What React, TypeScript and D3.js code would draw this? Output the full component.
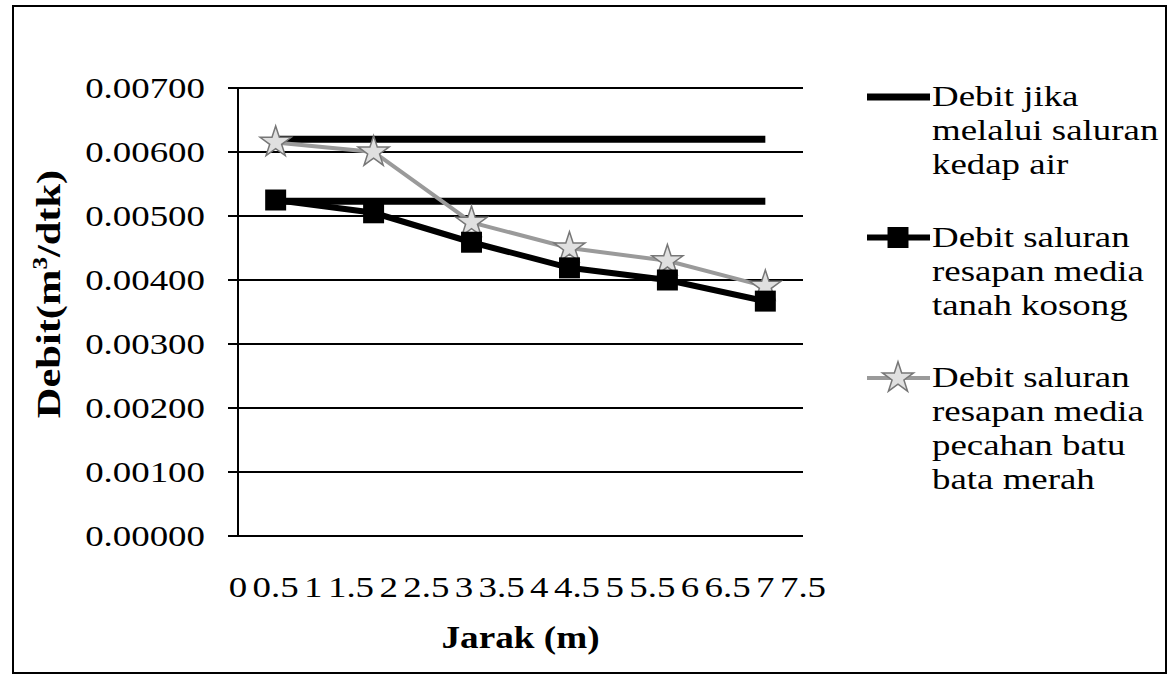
import React from 'react';
import * as d3 from 'd3';

// jarak (m) for each measuring point
const jarak = [0.5, 1.8, 3.1, 4.4, 5.7, 7.0];
// debit (m3/dtk)
const kedapAirBatu = [0.0062, 0.0062, 0.0062, 0.0062, 0.0062, 0.0062];
const kedapAirTanah = [0.00523, 0.00523, 0.00523, 0.00523, 0.00523, 0.00523];
const tanahKosong = [0.00525, 0.00505, 0.00459, 0.00419, 0.004, 0.00367];
const batuBata = [0.00615, 0.006, 0.0049, 0.0045, 0.0043, 0.0039];

const xTickLabels = ['0', '0.5', '1', '1.5', '2', '2.5', '3', '3.5', '4', '4.5', '5', '5.5', '6', '6.5', '7', '7.5'];
const yTicks = [0, 0.001, 0.002, 0.003, 0.004, 0.005, 0.006, 0.007];

const legendLabels = [
  ['Debit jika', 'melalui saluran', 'kedap air'],
  ['Debit saluran', 'resapan media', 'tanah kosong'],
  ['Debit saluran', 'resapan media', 'pecahan batu', 'bata merah'],
];

const W = 1172;
const H = 679;
const plot = { left: 238, right: 803, top: 88, bottom: 536 };
const FONT = '"Liberation Serif", "Times New Roman", serif';
const SX = 1.23; // the source font is set wide

const Wide: React.FC<{
  x: number;
  y: number;
  anchor?: 'start' | 'middle' | 'end';
  size?: number;
  bold?: boolean;
  sx?: number;
  children: React.ReactNode;
}> = ({ x, y, anchor = 'start', size = 30, bold = false, sx = SX, children }) => (
  <text
    transform={`translate(${x},${y}) scale(${sx},1)`}
    textAnchor={anchor}
    fontFamily={FONT}
    fontSize={size}
    fontWeight={bold ? 'bold' : 'normal'}
    fill="#000"
  >
    {children}
  </text>
);

const App: React.FC = () => {
  const x = d3.scaleLinear().domain([0, 7.5]).range([plot.left, plot.right]);
  const y = d3.scaleLinear().domain([0, 0.007]).range([plot.bottom, plot.top]);
  const line = d3
    .line<number>()
    .x((_, i) => x(jarak[i]))
    .y((d) => y(d));

  const square = d3.symbol().type(d3.symbolSquare).size(440)();
  const star = d3.symbol().type(d3.symbolStar).size(300)();

  // legend rows: each entry stacks its lines, a gap goes between entries
  const lineH = 34;
  const gap = 38.5;
  let cy = 97;
  const legendRows = legendLabels.map((lines) => {
    const row = { top: cy, lines };
    cy += lines.length * lineH + gap;
    return row;
  });

  return (
    <svg width={W} height={H} style={{ position: 'absolute', left: 0, top: 0, background: '#fff' }}>
      <rect x={0} y={0} width={W} height={H} fill="#fff" />
      <rect x={13} y={6} width={1153} height={667} fill="none" stroke="#000" strokeWidth={2} />

      {/* grid lines + y ticks */}
      {yTicks.map((t) => (
        <g key={t}>
          <line x1={plot.left - 10} x2={plot.right} y1={y(t)} y2={y(t)} stroke="#000" strokeWidth={2} />
          <Wide x={205} y={y(t) + 10} anchor="end">
            {d3.format('.5f')(t)}
          </Wide>
        </g>
      ))}
      <line x1={plot.left} x2={plot.left} y1={plot.top} y2={plot.bottom} stroke="#000" strokeWidth={2} />

      {/* x tick labels */}
      {xTickLabels.map((l) => (
        <Wide key={l} x={x(+l)} y={597} anchor="middle">
          {l}
        </Wide>
      ))}

      {/* axis titles */}
      <Wide x={(plot.left + plot.right) / 2} y={648} anchor="middle" bold size={31} sx={1.2}>
        Jarak (m)
      </Wide>
      <text
        transform="translate(60,294) rotate(-90) scale(1.25,1)"
        textAnchor="middle"
        fontFamily={FONT}
        fontSize={34}
        fontWeight="bold"
      >
        Debit(m
        <tspan fontSize={20} dy={-13}>3</tspan>
        <tspan dy={13}>/dtk)</tspan>
      </text>

      {/* series */}
      <path d={line(kedapAirBatu) ?? ''} fill="none" stroke="#000" strokeWidth={7} />
      <path d={line(kedapAirTanah) ?? ''} fill="none" stroke="#000" strokeWidth={7} />
      <path d={line(batuBata) ?? ''} fill="none" stroke="#9a9a9a" strokeWidth={4} />
      {batuBata.map((d, i) => (
        <path key={i} d={star ?? ''} transform={`translate(${x(jarak[i])},${y(d)})`} fill="#e0e0e0" stroke="#777" strokeWidth={1.5} />
      ))}
      <path d={line(tanahKosong) ?? ''} fill="none" stroke="#000" strokeWidth={6} />
      {tanahKosong.map((d, i) => (
        <path key={i} d={square ?? ''} transform={`translate(${x(jarak[i])},${y(d)})`} fill="#000" />
      ))}

      {/* legend */}
      {legendRows.map((row, k) => (
        <g key={k}>
          <line
            x1={867}
            x2={930}
            y1={row.top}
            y2={row.top}
            stroke={k === 2 ? '#9a9a9a' : '#000'}
            strokeWidth={k === 0 ? 7 : k === 1 ? 6 : 4}
          />
          {k === 1 && <path d={square ?? ''} transform={`translate(898,${row.top})`} fill="#000" />}
          {k === 2 && (
            <path d={star ?? ''} transform={`translate(898,${row.top})`} fill="#e0e0e0" stroke="#777" strokeWidth={1.5} />
          )}
          {row.lines.map((t, j) => (
            <Wide key={j} x={932} y={row.top + j * lineH + 9}>
              {t}
            </Wide>
          ))}
        </g>
      ))}
    </svg>
  );
};

export default App;
